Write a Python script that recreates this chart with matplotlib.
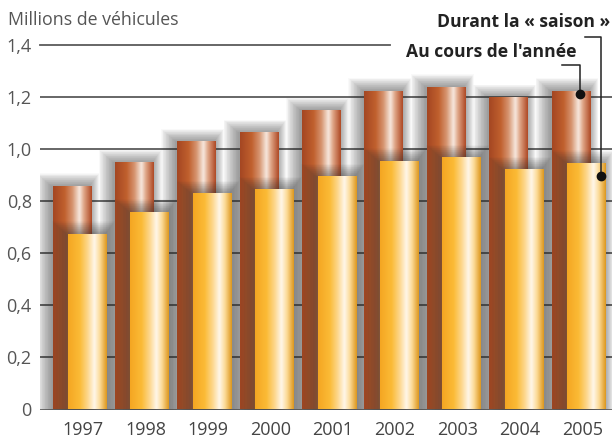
import numpy as np
import matplotlib
matplotlib.use('Agg')
import matplotlib.pyplot as plt
from matplotlib.colors import LinearSegmentedColormap

# Data
years = ['1997', '1998', '1999', '2000', '2001', '2002', '2003', '2004', '2005']
annee = [0.86, 0.95, 1.03, 1.065, 1.15, 1.225, 1.24, 1.20, 1.225]
saison = [0.675, 0.76, 0.83, 0.845, 0.895, 0.955, 0.968, 0.922, 0.948]
yticks = [0, 0.2, 0.4, 0.6, 0.8, 1.0, 1.2, 1.4]
ytick_labels = ['0', '0,2', '0,4', '0,6', '0,8', '1,0', '1,2', '1,4']

plt.rcParams['font.family'] = ['Open Sans', 'DejaVu Sans']

brown_cmap = LinearSegmentedColormap.from_list('brown', [
    (0.0, '#a44622'), (0.3, '#c0602e'), (0.5, '#d69470'),
    (0.68, '#f7e8de'), (0.8, '#dea384'), (1.0, '#ae4824')])
yellow_cmap = LinearSegmentedColormap.from_list('yellow', [
    (0.0, '#f4a622'), (0.3, '#fbbb36'), (0.5, '#fdd68a'),
    (0.68, '#fff7ea'), (0.82, '#fcdb98'), (1.0, '#dc961c')])

W, H = 612, 441
fig = plt.figure(figsize=(W / 100, H / 100), dpi=100)
ax = fig.add_axes([40 / W, (H - 409.5) / H, (W - 40) / W, (409.5 - 45) / H])
for s in ax.spines.values():
    s.set_visible(False)

x = np.arange(len(years))
bw = 0.625
xb = x - 0.176
xy = x + 0.072

# gridlines
for t in yticks[1:-1]:
    ax.axhline(t, color='#5a5a5a', lw=1.3, zorder=0)
ax.plot([-0.689, (390 - 83) / 62.4], [1.4, 1.4], color='#5a5a5a', lw=1.3,
        zorder=0, clip_on=False)
ax.axhline(0, color='#4a4a4a', lw=1.8, zorder=20)


def shadow(xs, hs, z):
    n = 20
    for k in range(n):
        ax.bar(xs - 0.03 - 0.002 * k, [h + 0.0025 * k for h in hs],
               width=bw + 0.02 * k, color='#303030', alpha=0.028,
               lw=0, zorder=z)


def grad_bars(xs, hs, cmap, z):
    grad = np.linspace(0, 1, 256).reshape(1, -1)
    bars = ax.bar(xs, hs, width=bw, color='none', lw=0, zorder=z)
    for b in bars:
        x0, w, h = b.get_x(), b.get_width(), b.get_height()
        im = ax.imshow(grad, cmap=cmap, aspect='auto', extent=[x0, x0 + w, 0, h],
                       zorder=z, interpolation='bicubic')
        im.set_clip_path(b)


shadow(xb, annee, 2)
grad_bars(xb, annee, brown_cmap, 3)
shadow(xy, saison, 4)
grad_bars(xy, saison, yellow_cmap, 5)
ax.set_xlim(-0.689, 8.478)
ax.set_ylim(0, 1.4)

ax.set_yticks(yticks)
ax.set_yticklabels(ytick_labels)
ax.set_xticks(x)
ax.set_xticklabels(years)
ax.tick_params(axis='y', length=0, pad=6, labelsize=13, labelcolor='#555555')
ax.tick_params(axis='x', length=0, pad=8, labelsize=13, labelcolor='#444444')

fig.text(8 / W, 1 - 20 / H, 'Millions de véhicules', fontsize=12.8,
         color='#555555', va='center', ha='left')

# legend labels with leaders
fig.text(610 / W, 1 - 22 / H, 'Durant la « saison »', fontsize=12.6,
         fontweight='bold', color='#222222', va='center', ha='right')
fig.text(577 / W, 1 - 52 / H, "Au cours de l'année", fontsize=12.6,
         fontweight='bold', color='#222222', va='center', ha='right')

lx1 = [(585 - 83) / 62.4, (601 - 83) / 62.4, (601 - 83) / 62.4]
ly1 = [(409.5 - 38) / 260, (409.5 - 38) / 260, saison[-1] - 0.05]
ax.plot(lx1, ly1, color='#222222', lw=1.1, zorder=30, clip_on=False)
ax.plot(lx1[-1], ly1[-1], 'o', color='#111111', ms=6, zorder=31, clip_on=False)

lx2 = [(562 - 83) / 62.4, (580 - 83) / 62.4, (580 - 83) / 62.4]
ly2 = [(409.5 - 65) / 260, (409.5 - 65) / 260, annee[-1] - 0.012]
ax.plot(lx2, ly2, color='#222222', lw=1.1, zorder=30, clip_on=False)
ax.plot(lx2[-1], ly2[-1], 'o', color='#111111', ms=6, zorder=31, clip_on=False)

fig.savefig('out.png', dpi=100)
